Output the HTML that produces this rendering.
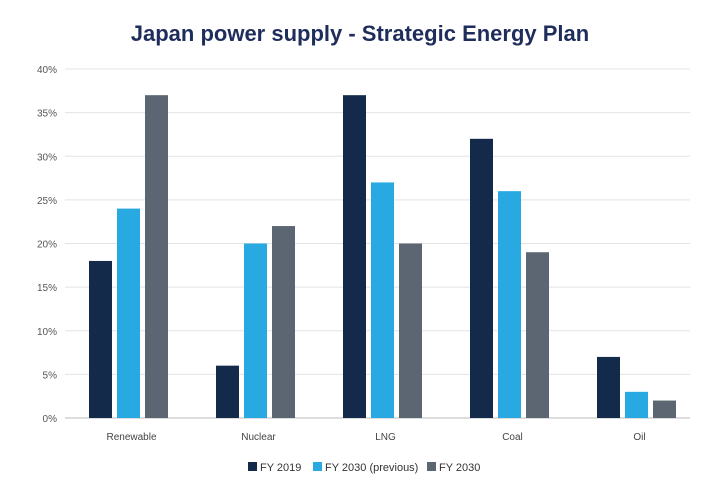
<!DOCTYPE html>
<html><head><meta charset="utf-8"><style>
html,body{margin:0;padding:0;background:#fff;}
svg{display:block;font-family:"Liberation Sans",sans-serif;}
</style></head><body>
<svg id="chart" width="720" height="500">
<text x="360" y="41" text-anchor="middle" font-size="22" font-weight="bold" fill="#1f2d5c">Japan power supply - Strategic Energy Plan</text>
<g id="grid"></g><g id="bars"></g><g id="xlabels"></g>
<g>
<g><rect x="248" y="462" width="9" height="9" fill="#132a4b"/><text x="260" y="471" font-size="11" fill="#333">FY 2019</text></g>
<g><rect x="313" y="462" width="9" height="9" fill="#29a9e1"/><text x="325" y="471" font-size="11" fill="#333">FY 2030 (previous)</text></g>
<g><rect x="427" y="462" width="9" height="9" fill="#5b6672"/><text x="439" y="471" font-size="11" fill="#333">FY 2030</text></g>
</g>
</svg>
<script>
const categories=["Renewable","Nuclear","LNG","Coal","Oil"];
const fy2019=[18,6,37,32,7];
const fy2030prev=[24,20,27,26,3];
const fy2030=[37,22,20,19,2];
const yTicks=[0,5,10,15,20,25,30,35,40];
const ns="http://www.w3.org/2000/svg";
const y0=418,yTop=69,yMax=40,x0=65,step=127;
const Y=v=>y0-(y0-yTop)*v/yMax;
const X=i=>x0+step*(i+0.5);
const grid=document.getElementById('grid'),bars=document.getElementById('bars'),xl=document.getElementById('xlabels');
function mk(t,a,p){const e=document.createElementNS(ns,t);for(const k in a)e.setAttribute(k,a[k]);p.appendChild(e);return e;}
yTicks.forEach(t=>{
 const l=mk('line',{x1:65,x2:690,y1:Y(t),y2:Y(t),stroke:t===0?'#bbb':'#e3e3e3','stroke-width':1},grid);
 
 
 const tx=mk('text',{x:57,y:Y(t)+4,'text-anchor':'end','font-size':10,fill:'#555'},grid);
 tx.textContent=t+'%';
 
 
});
const series=[[fy2019,'#132a4b','fy2019'],[fy2030prev,'#29a9e1','fy2030-previous'],[fy2030,'#5b6672','fy2030']];
categories.forEach((c,i)=>{
 series.forEach((s,j)=>{
  const v=s[0][i];
  const r=mk('rect',{x:X(i)+(j-1)*28-11.5,y:Y(v),width:23,height:y0-Y(v),fill:s[1]},bars);
  
  
 });
 const t=mk('text',{x:X(i)+3,y:440,'text-anchor':'middle','font-size':10,fill:'#444'},xl);
 t.textContent=c;
 
 
});
</script>
</body></html>
